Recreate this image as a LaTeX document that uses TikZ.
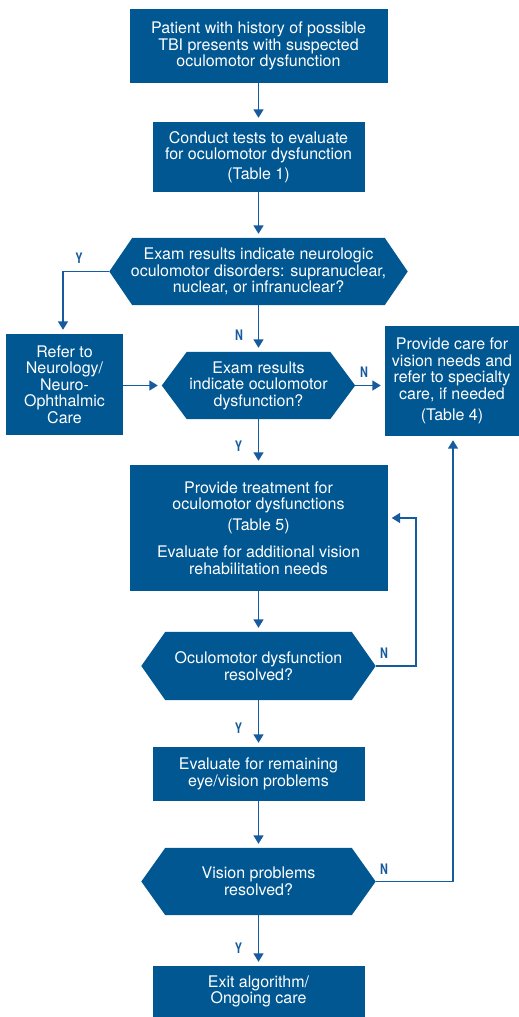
\documentclass[tikz,border=0pt]{standalone}
\usepackage{fontspec}
\setmainfont{TeX Gyre Heros}
\newfontfamily\lblfont[FakeStretch=0.75]{TeX Gyre Heros Bold}
\usetikzlibrary{arrows.meta,backgrounds}
\definecolor{boxblue}{RGB}{0,87,145}
\definecolor{lineblue}{RGB}{22,91,158}
\newcommand\hexbg[2]{\begin{scope}[on background layer]\fill[boxblue] (#1.west) -- ([xshift=#2]#1.north west) -- ([xshift=-#2]#1.north east) -- (#1.east) -- ([xshift=-#2]#1.south east) -- ([xshift=#2]#1.south west) -- cycle;\end{scope}}
\begin{document}
\begin{tikzpicture}[x=1pt,y=-1pt,
  every node/.style={font=\fontsize{16}{16.5}\selectfont, text=white, align=center, inner sep=0pt},
  box/.style={fill=boxblue},
  conn/.style={draw=lineblue, line width=1.6pt, -{Triangle[width=10pt,length=8.5pt]}, shorten >=4pt},
  lbl/.style={text=lineblue, font=\lblfont\fontsize{14.5}{14.5}\selectfont}]
\useasboundingbox (0,0) rectangle (519,1017);
\node[box, minimum width=258pt, minimum height=74pt] (b1) at (258.5,46)
  {Patient with history of possible\\TBI presents with suspected\\oculomotor dysfunction};
\node[box, minimum width=212pt, minimum height=70pt] (b2) at (258.5,157)
  {Conduct tests to evaluate\\for oculomotor dysfunction\\[3pt](Table 1)};
\node[minimum width=298pt, minimum height=67pt] (h1) at (258.5,271.5)
  {Exam results indicate neurologic\\oculomotor disorders: supranuclear,\\nuclear, or infranuclear?};
\hexbg{h1}{23pt}
\node[box, minimum width=117pt, minimum height=101pt] (ref) at (64.5,384.5)
  {Refer to\\Neurology/\\Neuro-\\Ophthalmic\\Care};
\node[minimum width=193pt, minimum height=67pt] (h2) at (258.5,385.5)
  {Exam results\\indicate oculomotor\\dysfunction?};
\hexbg{h2}{25pt}
\node[box, minimum width=134pt, minimum height=110pt] (care) at (452,381)
  {Provide care for\\vision needs and\\refer to specialty\\care, if needed\\[5pt](Table 4)};
\node[box, minimum width=258pt, minimum height=126pt] (tr) at (258.5,528)
  {Provide treatment for\\oculomotor dysfunctions\\[4pt](Table 5)\\[11pt]Evaluate for additional vision\\rehabilitation needs};
\node[minimum width=234pt, minimum height=68pt] (h3) at (258.5,666)
  {Oculomotor dysfunction\\resolved?};
\hexbg{h3}{24pt}
\node[box, minimum width=212pt, minimum height=54pt] (ev) at (258.5,774)
  {Evaluate for remaining\\eye/vision problems};
\node[minimum width=234pt, minimum height=67pt] (h4) at (258.5,881.5)
  {Vision problems\\resolved?};
\hexbg{h4}{24pt}
\node[box, minimum width=212pt, minimum height=51pt] (ex) at (258.5,991.5)
  {Exit algorithm/\\Ongoing care};
% connectors
\coordinate (yl) at (63,271.5);
\coordinate (lpA) at (416,666);
\coordinate (lpB) at (416,518);
\coordinate (lpC) at (453,881.5);
\draw[conn] (b1.south) -- (b2.north);
\draw[conn] (b2.south) -- (h1.north);
\draw[conn] (h1.west) -- (yl) -- (yl |- ref.north);
\draw[conn] (h1.south) -- (h2.north);
\draw[conn] (ref.east |- h2.west) -- (h2.west);
\draw[conn] (h2.east) -- (care.west |- h2.east);
\draw[conn] (h2.south) -- (tr.north);
\draw[conn] (tr.south) -- (h3.north);
\draw[conn] (h3.east) -- (lpA) -- (lpB) -- (tr.east |- lpB);
\draw[conn] (h3.south) -- (ev.north);
\draw[conn] (ev.south) -- (h4.north);
\draw[conn] (h4.east) -- (lpC) -- (lpC |- care.south);
\draw[conn] (h4.south) -- (ex.north);
% labels
\node[lbl] (y1) at (79,258) {Y};
\node[lbl] (n1) at (239,335) {N};
\node[lbl] (n2) at (364,372) {N};
\node[lbl] (y2) at (238.5,446.5) {Y};
\node[lbl] (n3) at (384,653) {N};
\node[lbl] (y3) at (238.5,728) {Y};
\node[lbl] (n4) at (384,869) {N};
\node[lbl] (y4) at (238.5,948) {Y};
\end{tikzpicture}
\end{document}
